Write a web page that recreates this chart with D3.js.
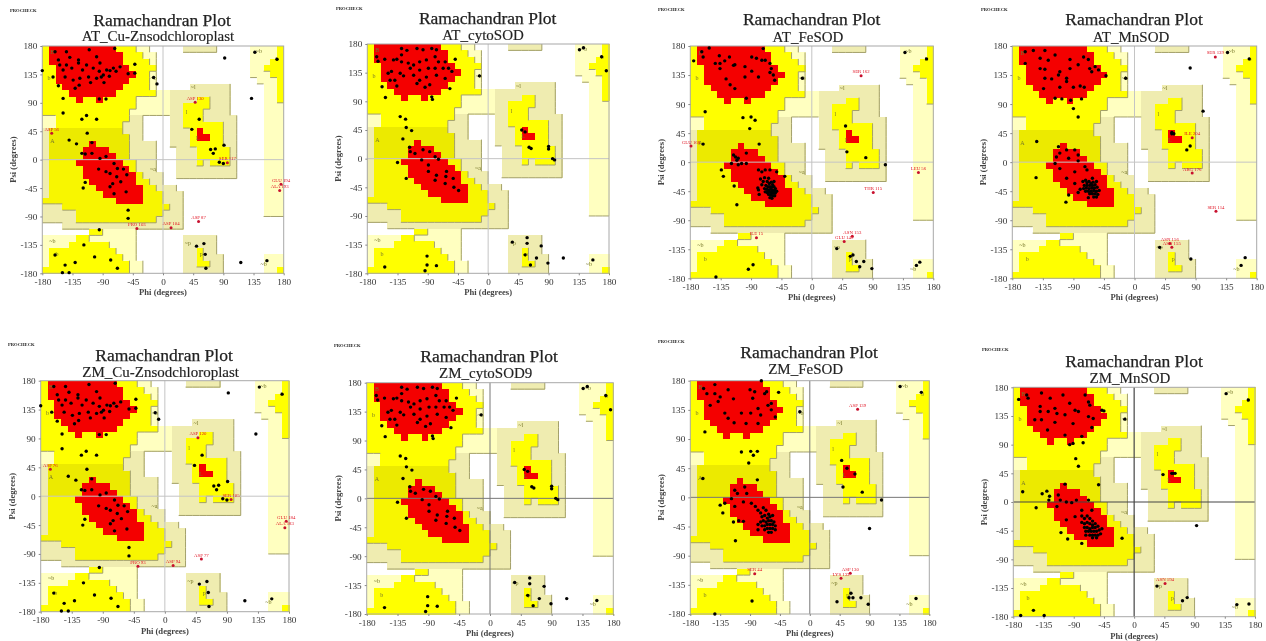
<!DOCTYPE html>
<html><head><meta charset="utf-8">
<script src="https://cdn.jsdelivr.net/npm/d3@7"></script>
<style>
html,body{margin:0;padding:0;background:#fff;overflow:hidden}
svg{display:block;filter:blur(0.55px)}
text{font-family:"Liberation Serif",serif}
</style></head><body>
<svg id="chart" width="1266" height="641"></svg>
<script>
const chartTitle = "Ramachandran Plot";
const panelNames = ["AT_Cu-Znsodchloroplast","AT_cytoSOD","AT_FeSOD","AT_MnSOD","ZM_Cu-Znsodchloroplast","ZM_cytoSOD9","ZM_FeSOD","ZM_MnSOD"];
const angleTicks = [-180,-135,-90,-45,0,45,90,135,180];

// Region map: one row per 10 deg of psi (top = 180), run-length coded per 10 deg of phi (left = -180)
const regionRows = [
"y1 r10 y3 p2 .5 k5 .5 p4 y1","y1 r11 y3 p2 .14 p4 y1","y1 r11 y4 p1 .14 p3 y2","y2 r11 y4 .14 p2 y3",
"y2 r12 y2 p1 .14 p3 y2","y2 r11 y3 p1 .15 p3 y1","y3 r9 y4 p1 .5 k6 .5 p2 y1","y4 r7 y6 p2 k9 .5 p2 y1",
"y5 r1 y2 r1 y5 p5 k4 y2 k3 .5 p2 y1","y14 p5 k2 y4 k3 .5 p3","y13 p6 k2 y3 k4 .5 p3","p2 y11 k2 .4 k2 y3 k5 .4 p3",
"p2 y10 k3 .4 k2 y6 k2 .4 p3","k1 o11 k3 .4 k3 y1 r1 y3 k2 .4 p3","k1 o12 k2 .4 k3 y1 r2 y2 k2 .4 p3","k1 o6 r1 o5 k4 .2 k3 y5 k2 .4 p3",
"k1 o5 r4 o3 k4 .3 k3 y5 k1 .4 p3","k1 o5 r5 o2 k4 .3 k3 y5 k1 .4 p3","k1 q4 r7 q2 k3 .3 k3 y1 k1 y3 k1 .4 p3","k1 q5 r7 q1 k3 .3 k9 .4 p3",
"k1 q5 r8 q1 k3 .2 k9 .4 p3","k1 q6 r7 q2 k2 .15 p3","k1 q7 r7 q2 k3 .13 p3","k1 q8 r6 q3 k3 .12 p3",
"q11 r4 q3 k3 .12 p3","k3 q16 k2 .12 p3","k5 q13 k3 .12 p3","k5 q12 k4 .15",
".3 k18 .15",".7 y2 p5 .22","p5 y2 p7 .7 k5 .10","p4 y6 p4 .7 k5 .10",
"p1 y10 p3 .7 k2 y1 k2 .10","p1 y11 p2 .7 k2 y1 k3 .6 p3","p1 y12 p2 .6 k2 y2 k2 .6 p3","y13 p2 .6 k6 .6 p2 y1"];
const regionColors = {".":"none",p:"#ffffc0",k:"#efecb0",y:"#ffff00",o:"#ecea00",q:"#f8f600",r:"#f40000"};
const regionRank = {".":0,p:1,k:1,y:2,o:2,q:2,r:3};
const regionLetters = [["B",-165,170],["b",-170,130],["A",-165,30],["L",52,35],["l",35,75],["~l",45,115],["~a",-15,-15],["~b",-14,130],["~b",-165,-128],["b",-158,-150],["~b",150,-165],["~b",143,172],["b",170,160],["~p",37,-132],["p",57,-150]];

// Residues as [phi, psi]
const pointsCu = [[-161,171],[-144,171],[-110,174],[-72,176],[-156,158],[-139,162],[-126,158],[-99,163],[-42,151],[-180,141],[-164,131],[-154,150],[-149,142],[-144,150],[-136,145],[-126,153],[-114,150],[-104,145],[-94,153],[-84,142],[-74,145],[-64,147],[-52,136],[-42,137],[-156,117],[-146,131],[-134,126],[-124,129],[-111,131],[-99,129],[-89,134],[-79,141],[-131,113],[-149,97],[-95,96],[-85,96],[-149,74],[-121,64],[-114,70],[-99,64],[-113,42],[-140,31],[-129,25],[-106,27],[-121,10],[-116,9],[-106,10],[-94,2],[-85,5],[-73,-6],[-96,-15],[-85,-19],[-68,-14],[-59,-15],[-79,-22],[-69,-27],[-54,-24],[-75,-38],[-79,-43],[-116,-36],[-119,-45],[-63,-35],[-55,-51],[-73,-54],[-52,-80],[-52,-93],[-95,-111],[-118,-135],[-161,-151],[-146,-167],[-131,-163],[-102,-154],[-78,-159],[-68,-172],[-150,-179],[-140,-179],[-14,130],[-9,120],[54,64],[43,48],[71,16],[75,10],[78,17],[91,23],[84,-4],[90,-6],[50,-137],[61,-133],[63,-150],[64,-172],[116,-163],[155,-160],[170,159],[92,161],[132,97],[137,170],[-120,142],[-92,131],[-80,132],[-70,140],[-95,140],[-108,122],[-125,118],[-88,122]];
const pointsCyto = [[-166,160],[-164,153],[-129,173],[-121,170],[-129,163],[-106,173],[-97,171],[-84,173],[-77,171],[-154,156],[-141,155],[-136,156],[-129,152],[-119,150],[-111,147],[-102,152],[-92,155],[-79,160],[-74,152],[-64,152],[-49,156],[-149,134],[-144,137],[-131,134],[-116,142],[-102,139],[-89,142],[-79,142],[-67,142],[-59,142],[-146,123],[-139,123],[-126,130],[-111,131],[-102,123],[-92,128],[-77,131],[-64,126],[-54,137],[-136,114],[-106,118],[-94,112],[-87,116],[-57,110],[-158,113],[-153,96],[-84,97],[-83,93],[-131,66],[-123,62],[-122,49],[-114,44],[-127,31],[-135,-6],[-117,18],[-116,11],[-109,8],[-97,14],[-87,11],[-79,3],[-74,-1],[-99,-2],[-89,-10],[-89,-20],[-77,-26],[-79,-34],[-62,-20],[-63,-28],[-64,-39],[-52,-31],[-51,-45],[-44,-50],[-122,-31],[50,45],[55,42],[61,18],[64,16],[90,19],[90,15],[96,0],[99,-2],[58,-124],[58,-133],[79,-137],[72,-156],[63,-167],[89,-164],[112,-156],[55,-151],[142,174],[136,171],[176,138],[169,160],[36,-131],[-13,130],[156,-159],[-77,-168],[-91,-153],[-91,-167],[-94,-176],[-154,-170]];
const pointsFeAT = [[-175,157],[-152,177],[-163,171],[-161,163],[-137,165],[-122,163],[-143,153],[-136,153],[-129,157],[-136,145],[-114,151],[-116,150],[-99,148],[-89,163],[-82,161],[-69,158],[-72,176],[-127,129],[-121,120],[-114,114],[-99,132],[-89,141],[-97,99],[-79,132],[-74,158],[-62,153],[-60,145],[-57,135],[-55,127],[-62,139],[-158,78],[-102,69],[-90,70],[-84,65],[-92,52],[50,56],[52,16],[80,7],[109,-4],[-14,130],[170,160],[138,170],[-78,28],[-134,-12],[-131,-22],[-115,-37],[-111,-66],[-161,28],[-116,11],[-113,8],[-109,6],[-111,3],[-97,14],[-97,-2],[-104,-2],[-119,-2],[-109,-4],[-79,-12],[-74,-15],[-69,-12],[-62,-12],[-52,-15],[-40,-22],[-66,-30],[-63,-33],[-60,-31],[-58,-35],[-68,-36],[-65,-38],[-62,-38],[-59,-39],[-56,-38],[-54,-41],[-70,-41],[-67,-42],[-64,-43],[-61,-42],[-58,-44],[-55,-44],[-52,-45],[-69,-46],[-66,-47],[-63,-46],[-60,-47],[-57,-48],[-54,-48],[-64,-50],[-61,-51],[-58,-52],[-55,-52],[-62,-55],[-59,-56],[-74,-35],[-72,-30],[-76,-26],[-70,-24],[-80,-40],[-78,-50],[-64,-25],[-56,-30],[-79,-43],[-94,-166],[-87,-159],[-142,-178],[37,-134],[57,-146],[61,-144],[66,-154],[77,-154],[71,-162],[89,-165],[160,-155],[155,-160]];
const pointsMnAT = [[-161,171],[-149,173],[-139,161],[-127,158],[-117,166],[-95,159],[-75,163],[-68,159],[-132,173],[-161,153],[-139,145],[-132,144],[-110,140],[-112,135],[-95,145],[-83,151],[-66,145],[-58,148],[-53,143],[-42,134],[-63,140],[-132,130],[-122,129],[-100,125],[-100,130],[-110,116],[-90,116],[-80,118],[-74,116],[-134,114],[-117,99],[-107,98],[-94,96],[-78,98],[-90,83],[-83,70],[-13,130],[-144,32],[-145,-24],[-101,-62],[-97,-51],[-112,24],[-115,8],[-110,14],[-100,19],[-88,19],[-83,11],[-97,6],[-83,2],[-117,-2],[-110,-10],[-100,-25],[-88,-15],[-73,-7],[-70,-12],[-88,-33],[-72,-28],[-70,-32],[-67,-30],[-64,-33],[-61,-31],[-74,-36],[-70,-36],[-66,-36],[-62,-36],[-58,-35],[-75,-41],[-71,-40],[-67,-41],[-63,-40],[-59,-40],[-55,-39],[-72,-45],[-68,-45],[-64,-45],[-60,-44],[-56,-45],[-52,-44],[-66,-49],[-62,-49],[-58,-49],[-54,-50],[-60,-54],[-56,-54],[-76,-30],[-80,-42],[-83,-47],[-68,-55],[-62,-25],[-56,-30],[55,46],[55,44],[58,44],[77,19],[82,25],[101,79],[82,146],[137,170],[169,160],[163,-148],[157,-160],[83,-150],[37,-132]];
const pointsFeZM = [[-143,174],[-160,168],[-155,160],[-73,180],[-47,162],[-143,160],[-135,155],[-138,148],[-123,166],[-115,152],[-90,166],[-83,163],[-68,160],[-65,163],[-86,153],[-128,130],[-123,122],[-114,115],[-103,130],[-96,114],[-89,130],[-78,137],[-63,142],[-58,135],[-52,124],[-78,114],[-150,142],[-74,127],[-58,145],[-158,101],[-103,70],[-89,71],[-85,65],[-79,71],[-92,53],[-161,29],[-79,27],[-135,-12],[-131,-24],[-115,-38],[-107,-36],[-100,-37],[-112,-67],[-128,-9],[-113,11],[-109,6],[-98,16],[-95,6],[-118,-2],[-113,-14],[-100,-7],[-88,-9],[48,57],[56,45],[68,36],[50,16],[79,8],[108,-4],[90,-48],[-15,132],[168,162],[136,171],[62,-148],[59,-155],[65,-155],[77,-155],[41,-161],[88,-165],[160,-156],[-143,-180],[-87,-160],[-82,-14],[-78,-20],[-74,-24],[-70,-16],[-66,-20],[-62,-26],[-72,-30],[-68,-28],[-64,-32],[-60,-30],[-56,-28],[-74,-38],[-70,-36],[-66,-38],[-62,-36],[-58,-36],[-54,-38],[-72,-44],[-68,-44],[-64,-42],[-60,-42],[-56,-42],[-52,-44],[-68,-50],[-64,-48],[-60,-48],[-56,-48],[-52,-50],[-62,-54],[-58,-54],[-78,-42],[-78,-50]];
const pointsMnZM = [[-172,161],[-160,168],[-158,163],[-138,171],[-125,163],[-106,168],[-96,155],[-73,168],[-68,157],[-66,152],[-140,150],[-140,142],[-128,142],[-118,147],[-115,139],[-103,137],[-88,144],[-83,142],[-68,134],[-61,131],[-48,144],[-45,143],[-148,129],[-138,129],[-118,125],[-129,113],[-103,105],[-91,123],[-63,117],[-96,90],[-91,92],[-76,93],[-78,103],[-87,68],[-83,56],[-166,16],[-146,-9],[-137,13],[-130,17],[-127,3],[-126,9],[-103,28],[-53,27],[-109,-48],[-99,-58],[-78,-65],[-18,-57],[-113,11],[-110,3],[-93,-1],[-86,3],[-68,3],[-115,-7],[-101,0],[-78,-13],[-63,-13],[-88,-23],[-101,-28],[-78,-22],[-74,-26],[-70,-22],[-66,-26],[-62,-30],[-78,-32],[-74,-34],[-70,-32],[-66,-34],[-62,-36],[-58,-34],[-74,-40],[-70,-40],[-66,-42],[-62,-40],[-58,-40],[-54,-38],[-72,-46],[-68,-46],[-64,-46],[-60,-46],[-56,-46],[-52,-44],[-72,-52],[-66,-52],[-62,-52],[-58,-52],[-54,-52],[-62,-56],[-56,-56],[-50,-50],[-48,-42],[58,45],[61,45],[56,45],[43,43],[93,-37],[-14,130],[137,170],[170,160],[72,-155],[79,-150],[171,-160],[153,-161],[34,-132],[-169,-178],[-134,-178],[-150,-170]];
const panelPoints = [pointsCu,pointsCyto,pointsFeAT,pointsMnAT,pointsCu,pointsCyto,pointsFeZM,pointsMnZM];

// Outlier residues, labelled in red: [label, phi, psi]
const outliersCuAT = [["ASP 56",-166,42],["ASP 130",48,91],["SER 117",96,-5],["GLU 194",176,-39],["ALA 193",174,-49],["ASP 87",53,-98],["PRO 103",-39,-109],["ASP 104",12,-108]];
const outliersFeAT = [["SER 162",73,134],["GLU 168",-179,25],["LEU 56",158,-16],["THR 115",91,-47],["ILE 15",-82,-117],["ASN 153",60,-115],["GLU 149",48,-123]];
const outliersMnAT = [["SER 139",119,163],["SER 114",120,-76],["ILE 204",85,38],["ARG 176",85,-17],["ASN 156",52,-126],["ASN 155",55,-132]];
const outliersCuZM = [["ASP 76",-166,42],["ASP 120",48,91],["SER 105",96,-5],["GLU 184",176,-39],["ALA 183",174,-49],["ASP 77",53,-98],["PRO 93",-39,-109],["ASP 94",12,-108]];
const outliersFeZM = [["ASP 139",72,136],["SER 44",-83,-118],["LYS 133",47,-125],["ASP 130",61,-117]];
const outliersMnZM = [["ASN 194",46,-128]];
const panelOutliers = [outliersCuAT,[],outliersFeAT,outliersMnAT,outliersCuZM,[],outliersFeZM,outliersMnZM];

// Page layout of each panel
const layouts = [
 {l:42.3,r:283.7,t:46,b:273.3,tx:162,ty:26,sx:158,sy:41,px:10,py:12,zero:"#c4c4c4"},
 {l:367.3,r:609,t:44,b:273.3,tx:487.7,ty:24,sx:483,sy:40,px:336,py:10,zero:"#c4c4c4"},
 {l:690.3,r:933.3,t:46,b:278.3,tx:811.7,ty:25,sx:808,sy:42,px:658,py:11,zero:"#c4c4c4"},
 {l:1012.3,r:1256.7,t:46,b:278.3,tx:1134,ty:25,sx:1131,sy:41.5,px:981,py:11,zero:"#c4c4c4"},
 {l:40.7,r:289,t:380.7,b:611.7,tx:164,ty:360.7,sx:160.7,sy:376.7,px:8,py:346,zero:"#c4c4c4"},
 {l:366.7,r:613.3,t:382.7,b:614,tx:489,ty:362,sx:485.7,sy:378,px:334,py:347,zero:"#777"},
 {l:690.3,r:929.3,t:380.7,b:614,tx:809,ty:358,sx:805.7,sy:374,px:658,py:343,zero:"#777"},
 {l:1013.3,r:1255,t:387.3,b:616.7,tx:1134,ty:366.7,sx:1130,sy:382.7,px:982,py:351,zero:"#444"}
];

const grid = regionRows.map(row => row.split(" ").flatMap(tok => Array(+tok.slice(1)).fill(tok[0])));
const cells = grid.flatMap((row,ri) => row.map((code,ci) => ({code,ri,ci,phi0:-180+ci*10,psi1:180-ri*10}))).filter(c => c.code !== ".");
const edges = [];
grid.forEach((row,ri) => row.forEach((code,ci) => {
  const rank = regionRank[code];
  if (rank === 0 || rank === 3) return;
  const phi = -180+ci*10, psi = 170-ri*10;
  if (ci < 35 && regionRank[row[ci+1]] < rank) edges.push([phi+10,psi,phi+10,psi+10]);
  if (ri < 35 && regionRank[grid[ri+1][ci]] < rank) edges.push([phi,psi,phi+10,psi]);
}));

const svg = d3.select("#chart");
panelNames.forEach((name,i) => {
  const L = layouts[i];
  const x = d3.scaleLinear().domain([-180,180]).range([L.l,L.r]);
  const y = d3.scaleLinear().domain([-180,180]).range([L.b,L.t]);
  const g = svg.append("g");
  g.append("text").attr("x",L.px).attr("y",L.py).attr("font-size",4.6).attr("font-weight","bold").attr("fill","#222").text("PROCHECK");
  g.append("text").attr("x",L.tx).attr("y",L.ty).attr("text-anchor","middle").attr("font-size",17.5).attr("fill","#222").attr("stroke","#222").attr("stroke-width",0.25).text(chartTitle);
  g.append("text").attr("x",L.sx).attr("y",L.sy).attr("text-anchor","middle").attr("font-size",15).attr("fill","#222").attr("stroke","#222").attr("stroke-width",0.15).text(name);

  g.append("g").attr("shape-rendering","crispEdges").selectAll("rect").data(cells).join("rect")
    .attr("x",d => x(d.phi0)).attr("y",d => y(d.psi1))
    .attr("width",x(10)-x(0)+0.5).attr("height",y(0)-y(10)+0.5)
    .attr("fill",d => regionColors[d.code]);
  g.append("g").selectAll("line").data(edges).join("line")
    .attr("x1",d => x(d[0])).attr("y1",d => y(d[1])).attr("x2",d => x(d[2])).attr("y2",d => y(d[3]))
    .attr("stroke","#a3a06c").attr("stroke-width",1);
  g.append("g").selectAll("text").data(regionLetters).join("text")
    .attr("x",d => x(d[1])).attr("y",d => y(d[2])).attr("text-anchor","middle").attr("dy","0.35em")
    .attr("font-size",6).attr("fill","#77772a").text(d => d[0]);
  g.append("line").attr("x1",x(-180)).attr("x2",x(180)).attr("y1",y(0)).attr("y2",y(0)).attr("stroke",L.zero).attr("stroke-width",i===7?1.2:1);
  g.append("line").attr("x1",x(0)).attr("x2",x(0)).attr("y1",y(-180)).attr("y2",y(180)).attr("stroke",L.zero).attr("stroke-width",i===7?1.2:1);
  g.append("rect").attr("x",L.l).attr("y",L.t).attr("width",L.r-L.l).attr("height",L.b-L.t).attr("fill","none").attr("stroke","#a8a8a8").attr("stroke-width",1);

  const xAxis = d3.axisBottom(x).tickValues(angleTicks).tickSize(2).tickFormat(String);
  const yAxis = d3.axisLeft(y).tickValues(angleTicks).tickSize(2).tickFormat(String);
  for (const [axis,tr] of [[xAxis,`translate(0,${L.b})`],[yAxis,`translate(${L.l},0)`]]) {
    const a = g.append("g").attr("transform",tr).call(axis);
    a.select(".domain").remove();
    a.selectAll("line").attr("stroke","#888");
    a.selectAll("text").attr("font-size",9.2).attr("fill","#333").style("font-family",'"Liberation Serif",serif');
  }
  g.append("text").attr("x",(L.l+L.r)/2).attr("y",L.b+22).attr("text-anchor","middle").attr("font-size",8.6).attr("font-weight","bold").attr("fill","#444").text("Phi (degrees)");
  g.append("text").attr("transform",`translate(${L.l-26},${(L.t+L.b)/2}) rotate(-90)`).attr("text-anchor","middle").attr("font-size",8.6).attr("font-weight","bold").attr("fill","#444").text("Psi (degrees)");

  g.append("g").selectAll("circle").data(panelPoints[i]).join("circle")
    .attr("cx",d => x(d[0])).attr("cy",d => y(d[1])).attr("r",1.7).attr("fill","#000");
  const o = g.append("g").selectAll("g").data(panelOutliers[i]).join("g");
  o.append("circle").attr("cx",d => x(d[1])).attr("cy",d => y(d[2])).attr("r",1.5).attr("fill","#c8102e");
  o.append("text").attr("x",d => x(d[1])).attr("y",d => y(d[2])-2.5).attr("text-anchor","middle").attr("font-size",4.8).attr("fill","#e01020").text(d => d[0]);
});
</script>
</body></html>
